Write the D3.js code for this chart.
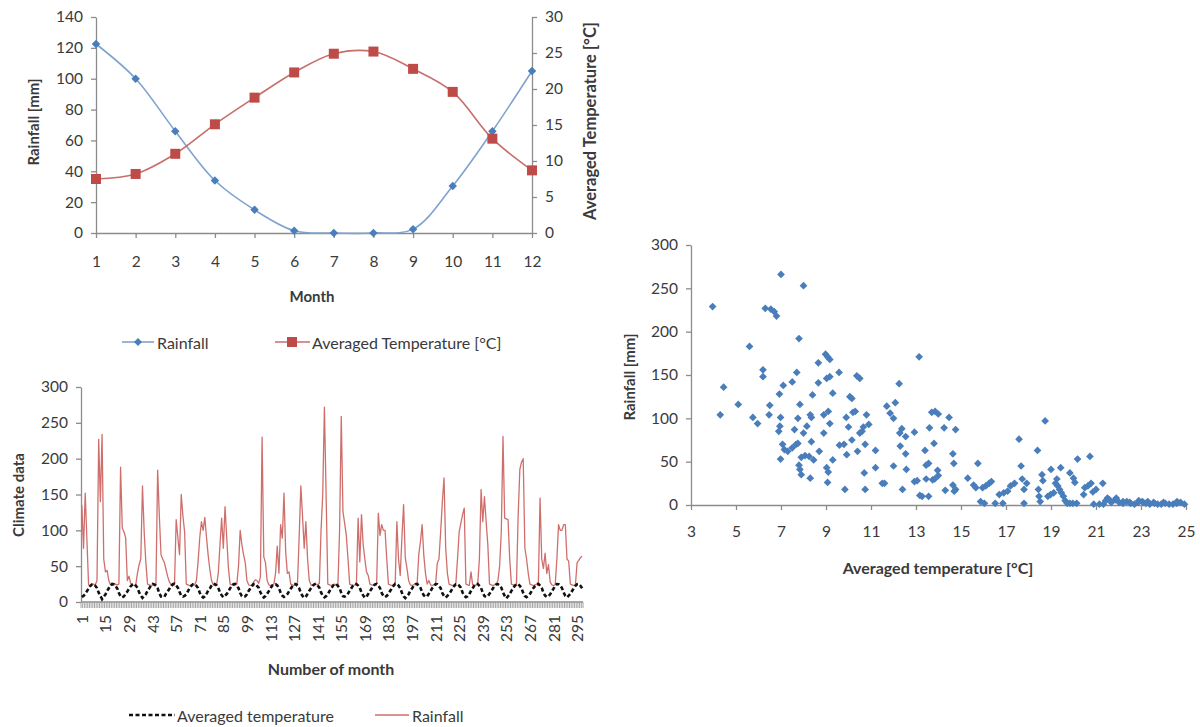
<!DOCTYPE html>
<html><head><meta charset="utf-8">
<script src="https://cdn.jsdelivr.net/npm/d3@7"></script>
<style>
html,body{margin:0;padding:0;background:#fff;}
svg{display:block;font-family:Lato,"Open Sans",sans-serif;}
</style></head>
<body>
<svg id="c" width="1200" height="727"></svg>
<script>
// ---------- DATA ----------
// Chart 1: monthly averages
const months = ["1","2","3","4","5","6","7","8","9","10","11","12"];
const monthlyRain = [122.5, 100, 66, 34, 15, 1.5, 0, 0, 2.5, 30.5, 66, 105];
const monthlyTemp = [7.5, 8.2, 11, 15.1, 18.8, 22.3, 24.9, 25.2, 22.8, 19.6, 13.1, 8.7];
const rainTicks = [0,20,40,60,80,100,120,140];
const tempTicks = [0,5,10,15,20,25,30];

// Chart 2: monthly series (months 1..298)
const seriesRain = [
 135, 75, 152, 88, 24, 23, 24, 25, 24, 30, 227, 140,
 234, 60, 42, 44, 30, 24, 23, 24, 25, 24, 25, 188,
 103, 98, 90, 30, 36, 26, 24, 23, 24, 40, 52, 60,
 162, 98, 55, 25, 24, 23, 24, 25, 24, 184, 120, 66,
 60, 55, 45, 35, 28, 24, 23, 24, 115, 90, 66, 150,
 120, 98, 25, 24, 23, 24, 25, 24, 30, 56, 90, 112,
 100, 118, 90, 65, 45, 30, 24, 23, 24, 40, 80, 117,
 75, 133, 90, 48, 25, 24, 23, 24, 25, 50, 100, 80,
 66, 55, 30, 24, 23, 24, 28, 31, 30, 26, 35, 230,
 63, 55, 30, 24, 23, 24, 25, 40, 78, 40, 108, 89,
 152, 70, 40, 42, 25, 24, 23, 24, 25, 90, 162, 120,
 75, 112, 60, 30, 24, 23, 24, 25, 24, 26, 100, 150,
 272, 150, 25, 24, 23, 24, 25, 24, 23, 100, 259, 126,
 110, 93, 60, 25, 24, 23, 24, 25, 117, 56, 122, 80,
 60, 42, 37, 25, 24, 23, 24, 25, 124, 93, 108, 100,
 100, 60, 25, 24, 23, 24, 25, 112, 60, 37, 90, 136,
 62, 47, 30, 24, 23, 24, 25, 24, 66, 84, 108, 65,
 40, 25, 30, 24, 23, 24, 25, 54, 60, 98, 140, 173,
 75, 40, 25, 24, 23, 24, 25, 60, 98, 110, 122, 131,
 25, 24, 23, 42, 24, 23, 24, 25, 60, 157, 112, 147,
 112, 80, 25, 24, 23, 24, 25, 30, 50, 98, 231, 117,
 116, 115, 60, 25, 24, 23, 24, 120, 185, 195, 200, 75,
 60, 40, 25, 24, 23, 24, 25, 24, 145, 60, 47, 68,
 40, 52, 28, 24, 23, 24, 60, 108, 100, 100, 108, 108,
 60, 57, 25, 24, 23, 24, 55, 58, 62, 64
];
const seriesTemp = [
 7.0, 8.4, 11.2, 15.0, 18.8, 22.3, 24.6, 25.0, 22.7, 19.5, 13.0, 8.5,
 4.0, 7.5, 10.5, 15.3, 19.2, 22.6, 25.2, 24.8, 22.3, 19.0, 12.6, 8.0,
 6.5, 7.9, 11.6, 14.6, 18.5, 22.0, 24.4, 25.3, 23.0, 19.8, 13.5, 9.1,
 5.8, 8.8, 10.9, 15.6, 19.0, 22.8, 25.1, 24.6, 22.5, 19.2, 12.2, 7.6,
 6.9, 7.2, 11.8, 14.9, 18.6, 22.1, 24.9, 25.4, 22.9, 20.1, 13.8, 8.9,
 7.5, 8.6, 10.7, 15.2, 19.4, 22.5, 24.7, 25.0, 22.6, 19.4, 12.9, 8.3,
 6.2, 8.0, 11.4, 15.8, 18.9, 22.9, 25.5, 24.9, 23.2, 19.7, 13.2, 9.4,
 6.8, 9.0, 11.1, 14.7, 19.1, 22.4, 24.8, 25.2, 22.8, 19.3, 12.5, 8.2,
 7.3, 7.8, 10.8, 15.4, 18.7, 22.2, 25.0, 25.3, 22.4, 19.9, 13.6, 8.7,
 6.4, 8.3, 11.5, 15.1, 19.3, 22.7, 24.5, 24.8, 23.1, 19.6, 13.1, 9.0,
 7.1, 8.7, 11.0, 14.8, 18.6, 22.0, 25.2, 25.1, 22.6, 19.1, 12.7, 8.4,
 5.9, 7.7, 11.3, 15.5, 19.0, 22.6, 24.7, 25.4, 22.9, 20.0, 13.4, 8.8,
 6.6, 8.1, 10.6, 15.0, 18.8, 22.3, 25.1, 24.9, 22.5, 19.4, 12.8, 8.1,
 7.4, 8.9, 11.7, 15.7, 19.2, 22.8, 24.9, 25.0, 23.0, 19.7, 13.3, 9.2,
 6.0, 7.6, 11.1, 14.9, 18.5, 22.1, 24.6, 25.2, 22.7, 19.5, 12.6, 8.6,
 6.9, 8.5, 11.4, 15.3, 19.1, 22.5, 25.3, 25.0, 22.8, 19.2, 13.0, 8.0,
 5.5, 8.2, 10.9, 15.6, 18.9, 22.7, 24.8, 25.3, 23.1, 19.8, 13.7, 9.3,
 7.2, 8.0, 11.6, 15.2, 19.4, 22.4, 25.0, 24.7, 22.4, 19.3, 12.4, 8.5,
 6.3, 8.6, 11.2, 14.6, 18.7, 22.2, 24.7, 25.1, 22.9, 19.9, 13.2, 8.9,
 6.7, 7.9, 10.8, 15.4, 19.2, 22.9, 25.4, 25.2, 22.6, 19.6, 12.9, 8.2,
 7.0, 8.4, 11.5, 15.0, 18.8, 22.3, 24.6, 25.0, 23.2, 20.2, 13.5, 8.7,
 5.2, 8.1, 11.0, 15.5, 19.0, 22.6, 25.2, 24.9, 22.5, 19.4, 12.7, 8.3,
 6.8, 8.7, 11.3, 15.1, 19.3, 22.2, 24.9, 25.3, 22.8, 19.7, 13.1, 9.0,
 7.1, 8.2, 10.7, 14.8, 18.6, 22.7, 25.1, 24.8, 23.0, 19.5, 13.4, 8.6,
 6.5, 8.8, 11.4, 15.3, 19.1, 22.5, 24.8, 25.2, 22.7, 19.2
];
const seriesTickLabels = [1,15,29,43,57,71,85,99,113,127,141,155,169,183,197,211,225,239,253,267,281,295];
const climateTicks = [0,50,100,150,200,250,300];

// Chart 3: scatter [temperature, rainfall]
const scatterPoints = [
 [3.96,229],[7.0,266],[8.0,253],[6.3,227],[6.55,226],[6.7,223],[6.8,218],[7.8,192],[5.6,183],[4.45,136],
 [4.3,104],[5.1,116],[5.75,101],[5.96,94],[6.2,156],[6.2,148],[6.5,115],[6.47,104],[6.9,85],[6.95,91],
 [6.98,101],[6.93,128],[7.1,138],[7.5,142],[7.7,153],[6.98,53],[7.07,70],[7.15,64],[7.3,62],[7.5,66],
 [7.67,70],[7.75,71],[7.6,87],[7.75,100],[7.84,116],[7.84,41],[7.9,35],[7.8,46],[7.9,55],[8.07,57],
 [8.25,56],[8.0,83],[8.15,91],[8.3,104],[8.35,101],[8.4,127],[8.35,73],[8.3,31],[8.45,52],[8.66,164],
 [8.66,141],[8.7,62],[8.9,83],[8.9,104],[8.98,174],[9.07,171],[9.17,168],[9.03,146],[9.17,148],[9.1,108],
 [9.17,94],[9.3,129],[9.03,43],[9.1,38],[9.07,26],[9.3,52],[9.58,153],[9.6,69],[9.8,70],[9.84,18],
 [9.9,101],[9.92,58],[10.0,90],[10.06,125],[10.15,123],[10.2,107],[10.15,75],[10.3,108],[10.37,149],[10.5,146],
 [10.4,62],[10.5,83],[10.6,85],[10.66,90],[10.7,37],[10.74,18],[10.8,104],[10.74,70],[10.9,93],[11.2,63],
 [11.2,43],[11.5,25],[11.6,25],[11.7,114],[11.85,106],[12.0,100],[12.08,118],[12.0,45],[12.25,140],[12.28,83],
 [12.37,88],[12.3,68],[12.4,18],[12.54,59],[12.54,79],[12.57,41],[12.93,84],[12.93,27],[13.05,28],[13.14,171],
 [13.17,11],[13.27,10],[13.4,63],[13.45,46],[13.56,48],[13.45,30],[13.56,10],[13.6,89],[13.7,107],[13.85,108],
 [13.99,105],[13.8,71],[13.74,29],[13.83,30],[13.96,40],[13.99,34],[14.25,89],[14.3,17],[14.47,101],[14.64,59],
 [14.68,48],[14.76,87],[14.64,23],[14.7,16],[14.76,18],[15.3,31],[15.56,23],[15.66,20],[15.75,48],[15.87,4],
 [16.04,2],[15.96,20],[16.1,22],[16.25,25],[16.35,27],[16.52,2],[16.86,2],[16.7,12],[16.9,14],[17.07,16],
 [17.2,22],[17.38,25],[17.58,76],[17.67,45],[17.72,30],[17.8,18],[17.92,25],[17.8,2],[18.4,63],[18.44,18],
 [18.47,10],[18.52,4],[18.6,35],[18.64,28],[18.74,97],[18.86,10],[18.98,12],[19.12,14],[19.0,41],[19.2,25],
 [19.26,30],[19.3,22],[19.38,18],[19.43,43],[19.46,14],[19.55,10],[19.63,5],[19.72,2],[19.84,2],[19.97,2],
 [20.14,2],[19.84,37],[20.0,31],[20.06,26],[20.18,53],[20.45,12],[20.5,20],[20.64,22],[20.78,25],[20.73,56],
 [20.9,1],[21.15,1],[21.33,1],[20.86,15],[21.0,18],[21.3,25],[21.43,5],[21.51,8],[21.68,3],[21.85,6],
 [22.03,3],[22.2,2],[22.37,4],[22.54,2],[22.71,1],[22.88,3],[23.05,4],[23.22,2],[23.39,1],[23.56,3],
 [23.74,1],[23.9,1],[24.08,2],[24.25,1],[24.42,1],[24.59,2],[24.76,3],[24.93,1],[21.6,6],[21.9,8],
 [22.2,4],[22.5,3],[22.9,5],[23.1,3],[23.3,4],[23.6,2],[24.0,3],[24.6,4]
];
const scatterXTicks = [3,5,7,9,11,13,15,17,19,21,23,25];
const scatterYTicks = [0,50,100,150,200,250,300];

// ---------- STYLE ----------
const BLUE = "#4A7EBB", RED = "#BE4B48", AXIS = "#8C8C8C", TXT = "#3a3a3a";
const TICK_FS = 15.5, LEG_FS = 16;
const svg = d3.select("#c");

function styleAxis(g){
  g.select(".domain").attr("stroke", AXIS).attr("stroke-width", 1.3);
  g.selectAll(".tick line").attr("stroke", AXIS).attr("stroke-width", 1.3);
  g.selectAll(".tick text").attr("fill", TXT).style("font-size", TICK_FS + "px").style("font-family","Lato, 'Open Sans', sans-serif");
}
function diamond(size){ return d3.symbol().type(d3.symbolSquare).size(size); }
function title(g, x, y, rot, fs, txt){
  g.append("text").attr("transform",`translate(${x},${y}) rotate(${rot})`).attr("text-anchor","middle")
    .attr("dominant-baseline","central").attr("font-weight","bold").attr("font-size",fs).attr("fill",TXT).text(txt);
}

// ---------- CHART 1 ----------
{
  const x = d3.scalePoint().domain(months).range([96, 532]);
  const yL = d3.scaleLinear().domain([0,140]).range([233,17]);
  const yR = d3.scaleLinear().domain([0,30]).range([233,17]);
  const g = svg.append("g");
  g.append("g").attr("transform","translate(96,0)")
    .call(d3.axisLeft(yL).tickValues(rainTicks).tickSize(5).tickSizeOuter(0).tickPadding(8)).call(styleAxis);
  g.append("g").attr("transform","translate(532,0)")
    .call(d3.axisRight(yR).tickValues(tempTicks).tickSize(5).tickSizeOuter(0).tickPadding(8)).call(styleAxis);
  g.append("g").attr("transform","translate(0,233)")
    .call(d3.axisBottom(x).tickSize(5).tickSizeOuter(0).tickPadding(18)).call(styleAxis);

  const lineR = d3.line().x((d,i)=>x(months[i])).y(d=>yL(d)).curve(d3.curveCatmullRom.alpha(0.5));
  const lineT = d3.line().x((d,i)=>x(months[i])).y(d=>yR(d)).curve(d3.curveCatmullRom.alpha(0.5));
  g.append("path").datum(monthlyRain).attr("d", lineR).attr("fill","none").attr("stroke","#7FA3CF").attr("stroke-width",1.6);
  g.append("path").datum(monthlyTemp).attr("d", lineT).attr("fill","none").attr("stroke","#C86E6B").attr("stroke-width",1.6);
  g.selectAll(".dm").data(monthlyRain).join("path")
    .attr("d", diamond(36)())
    .attr("transform",(d,i)=>`translate(${x(months[i])},${yL(d)}) rotate(45)`)
    .attr("fill", BLUE);
  g.selectAll(".sq").data(monthlyTemp).join("rect")
    .attr("x",(d,i)=>x(months[i])-5).attr("y",d=>yR(d)-5).attr("width",10).attr("height",10)
    .attr("fill", RED);

  title(g, 312, 296, 0, 15, "Month");
  title(g, 33, 122, -90, 15, "Rainfall [mm]");
  title(g, 590, 121, -90, 16.5, "Averaged Temperature [°C]");

  // legend
  const ly = 342;
  g.append("line").attr("x1",122).attr("x2",154).attr("y1",ly).attr("y2",ly).attr("stroke","#7FA3CF").attr("stroke-width",1.6);
  g.append("path").attr("d", diamond(32)()).attr("transform",`translate(138,${ly}) rotate(45)`).attr("fill",BLUE);
  g.append("text").attr("x",157).attr("y",ly).attr("dominant-baseline","central").attr("font-size",LEG_FS).attr("fill",TXT).text("Rainfall");
  g.append("line").attr("x1",275).attr("x2",310).attr("y1",ly).attr("y2",ly).attr("stroke","#C86E6B").attr("stroke-width",1.6);
  g.append("rect").attr("x",287).attr("y",ly-5).attr("width",10).attr("height",10).attr("fill",RED);
  g.append("text").attr("x",312).attr("y",ly).attr("dominant-baseline","central").attr("font-size",LEG_FS).attr("fill",TXT).text("Averaged Temperature [°C]");
}

// ---------- CHART 2 ----------
{
  const monthNumbers = d3.range(1, seriesRain.length + 1);
  const x = d3.scaleBand().domain(monthNumbers).range([81, 583]);
  const bw = x.bandwidth();
  const y = d3.scaleLinear().domain([0,300]).range([602,387]);
  const g = svg.append("g");
  g.append("g").attr("transform","translate(81,0)")
    .call(d3.axisLeft(y).tickValues(climateTicks).tickSize(5).tickSizeOuter(0).tickPadding(8)).call(styleAxis);
  // x axis line + category boundary ticks
  g.append("line").attr("x1",x.range()[0]).attr("x2",x.range()[1]).attr("y1",y(0)).attr("y2",y(0)).attr("stroke",AXIS).attr("stroke-width",1.3);
  g.selectAll(".bt").data(monthNumbers.concat([null])).join("line")
    .attr("x1",(d,i)=> i < monthNumbers.length ? x(d) : x.range()[1])
    .attr("x2",(d,i)=> i < monthNumbers.length ? x(d) : x.range()[1])
    .attr("y1",y(0)).attr("y2",y(0)+6).attr("stroke","#9a9a9a").attr("stroke-width",0.9);
  g.selectAll(".tl").data(seriesTickLabels).join("text")
    .attr("transform", d=>`translate(${x(d)+bw/2},${y(0)+13}) rotate(-90)`)
    .attr("text-anchor","end").attr("dominant-baseline","central")
    .attr("font-size",TICK_FS).attr("fill",TXT).text(d=>d);

  const line = d3.line().x((d,i)=>x(monthNumbers[i])+bw/2).y(d=>y(d));
  g.append("path").datum(seriesRain).attr("d", line).attr("fill","none").attr("stroke","#CF6F6C").attr("stroke-width",1.3).attr("stroke-linejoin","round");
  g.append("path").datum(seriesTemp).attr("d", line).attr("fill","none").attr("stroke","#111").attr("stroke-width",2.6).attr("stroke-dasharray","4,2.5");

  title(g, 331, 668, 0, 16, "Number of month");
  title(g, 18, 495, -90, 15, "Climate data");

  const ly = 715;
  g.append("line").attr("x1",129).attr("x2",175).attr("y1",ly).attr("y2",ly).attr("stroke","#111").attr("stroke-width",2.4).attr("stroke-dasharray","4,2.5");
  g.append("text").attr("x",177).attr("y",ly).attr("dominant-baseline","central").attr("font-size",LEG_FS).attr("fill",TXT).text("Averaged temperature");
  g.append("line").attr("x1",375).attr("x2",409).attr("y1",ly).attr("y2",ly).attr("stroke","#CF6F6C").attr("stroke-width",1.4);
  g.append("text").attr("x",412).attr("y",ly).attr("dominant-baseline","central").attr("font-size",LEG_FS).attr("fill",TXT).text("Rainfall");
}

// ---------- CHART 3 ----------
{
  const x = d3.scaleLinear().domain([3,25]).range([691,1186]);
  const y = d3.scaleLinear().domain([0,300]).range([505,245]);
  const g = svg.append("g");
  g.append("g").attr("transform","translate(691,0)")
    .call(d3.axisLeft(y).tickValues(scatterYTicks).tickSize(5).tickSizeOuter(0).tickPadding(8)).call(styleAxis);
  g.append("g").attr("transform","translate(0,505)")
    .call(d3.axisBottom(x).tickValues(scatterXTicks).tickSize(5).tickSizeOuter(0).tickPadding(16)).call(styleAxis);
  g.selectAll(".pt").data(scatterPoints).join("path")
    .attr("d", diamond(30)())
    .attr("transform", d=>`translate(${x(d[0])},${y(d[1])}) rotate(45)`)
    .attr("fill", BLUE);
  title(g, 938, 567, 0, 16, "Averaged temperature [°C]");
  title(g, 629, 377, -90, 15, "Rainfall [mm]");
}
</script>
</body></html>
